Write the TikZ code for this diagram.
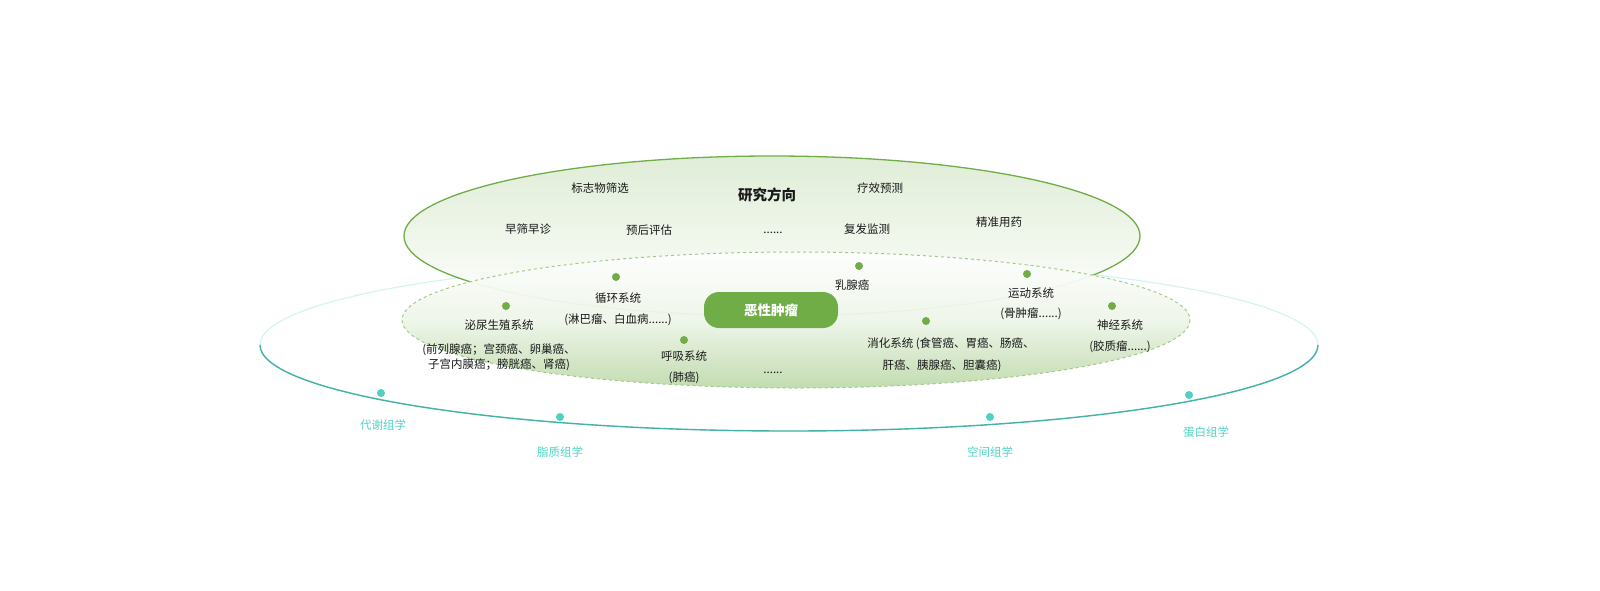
\documentclass[tikz,border=0pt]{standalone}
\usepackage{fontspec}
\setmainfont{Noto Sans CJK SC}
\begin{document}
\begin{tikzpicture}[x=1pt,y=-1pt]
\definecolor{gr}{RGB}{112,173,71}
\definecolor{tl}{RGB}{80,210,195}
\tikzset{
  lab/.style={font=\fontsize{11.5}{15.5}\selectfont, text=black!90, align=center, inner sep=1pt},
  omic/.style={font=\fontsize{11.5}{14}\selectfont, text=tl, inner sep=1pt},
  gdot/.style={circle, fill=gr, minimum size=8pt, inner sep=0pt},
  tdot/.style={circle, fill=tl, minimum size=8pt, inner sep=0pt}}
\useasboundingbox (0,0) rectangle (1600,590);
% outer teal ellipse
\draw[tl!25, line width=1.2pt] (789,345) ellipse [x radius=529, y radius=86];
\draw[tl!85!black, line width=1.4pt] (260,345) arc[start angle=180,end angle=0,x radius=529,y radius=86];
% top ellipse
\shade[top color=gr!22, bottom color=white] (772,236) ellipse [x radius=368, y radius=80];
\draw[gr, line width=1.3pt] (772,236) ellipse [x radius=368, y radius=80];
% middle dashed ellipse
\shade[top color=white, bottom color=gr!45, middle color=gr!12, opacity=0.95] (796,320) ellipse [x radius=394, y radius=68];
\draw[gr!65, dashed, line width=1pt] (796,320) ellipse [x radius=394, y radius=68];
% research direction
\node[lab, font=\fontsize{14.5}{16}\selectfont\bfseries] (title) at (767,195) {研究方向};
\node[lab] (d1) at (600,188) {标志物筛选};
\node[lab] (d2) at (880,188) {疗效预测};
\node[lab] (d3) at (528,229) {早筛早诊};
\node[lab] (d4) at (649,230) {预后评估};
\node[lab] (d5) at (773,233) {......};
\node[lab] (d6) at (867,229) {复发监测};
\node[lab] (d7) at (999,222) {精准用药};
% tumor pill
\node[rounded corners=15pt, fill=gr, minimum width=134pt, minimum height=36pt, text=white, font=\fontsize{13.5}{15}\selectfont\bfseries] (tumor) at (771,310) {恶性肿瘤};
% dots
\node[gdot] (g1) at (506,306) {};
\node[gdot] (g2) at (616,277) {};
\node[gdot] (g3) at (684,340) {};
\node[gdot] (g4) at (859,266) {};
\node[gdot] (g5) at (926,321) {};
\node[gdot] (g6) at (1027,274) {};
\node[gdot] (g7) at (1112,306) {};
\node[lab] (s1) at (499,325) {泌尿生殖系统};
\node[lab] (s1b) at (499,357) {(前列腺癌；宫颈癌、卵巢癌、\\子宫内膜癌；膀胱癌、肾癌)};
\node[lab] (s2) at (618,298) {循环系统};
\node[lab] (s2b) at (618,320) {(淋巴瘤、白血病......)};
\node[lab] (s3) at (684,356) {呼吸系统};
\node[lab] (s3b) at (684,378) {(肺癌)};
\node[lab] (s4) at (852,285) {乳腺癌};
\node[lab] (s5) at (951,344) {消化系统 (食管癌、胃癌、肠癌、};
\node[lab] (s5b) at (942,366) {肝癌、胰腺癌、胆囊癌)};
\node[lab] (s6) at (1031,293) {运动系统};
\node[lab] (s6b) at (1031,314) {(骨肿瘤......)};
\node[lab] (s7) at (1120,325) {神经系统};
\node[lab] (s7b) at (1120,347) {(胶质瘤......)};
\node[lab] (s8) at (773,373) {......};
% omics
\node[tdot] (t1) at (381,393) {};
\node[tdot] (t2) at (560,417) {};
\node[tdot] (t3) at (990,417) {};
\node[tdot] (t4) at (1189,395) {};
\node[omic] (o1) at (383,425) {代谢组学};
\node[omic] (o2) at (560,452) {脂质组学};
\node[omic] (o3) at (990,452) {空间组学};
\node[omic] (o4) at (1206,432) {蛋白组学};
\end{tikzpicture}
\end{document}
